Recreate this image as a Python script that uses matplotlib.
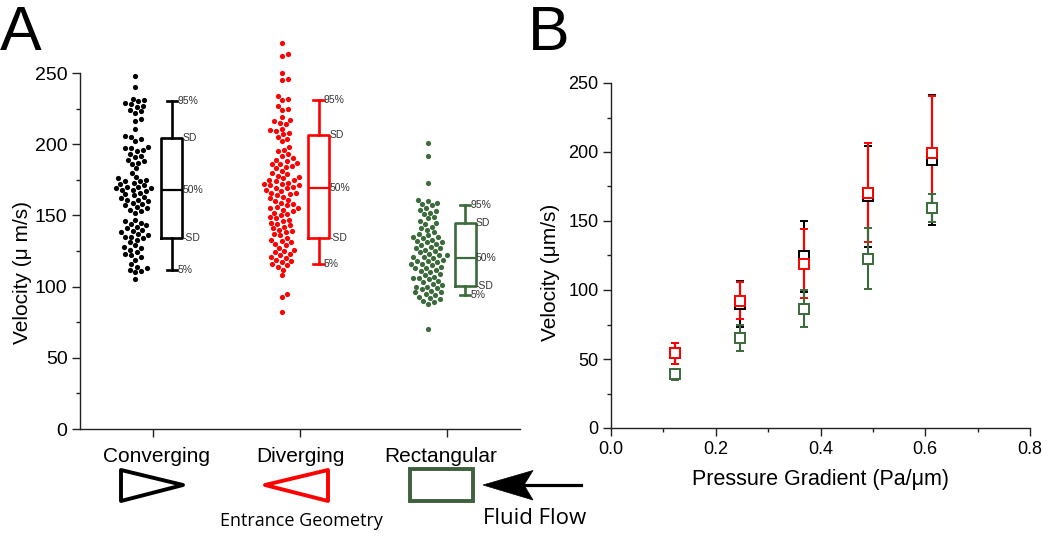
import matplotlib
matplotlib.use('Agg')
import matplotlib.pyplot as plt
import numpy as np
from matplotlib.patches import Polygon, Rectangle
from matplotlib.lines import Line2D
from matplotlib.ticker import MultipleLocator

plt.rcParams['font.family'] = ['Liberation Sans', 'DejaVu Sans']

# ---- panel A data: individual velocities (um/s) ----
converging = [248, 240, 232, 231, 230, 229, 228, 227, 226, 224, 223, 222, 218, 216, 211,
              206, 205, 204, 202, 198, 197, 197, 196, 195, 193, 192, 191, 189, 188, 187,
              186, 183, 180, 177, 176, 175, 174, 174, 173, 172, 171, 170, 170, 169, 169,
              168, 168, 167, 166, 165, 164, 163, 162, 161, 161, 160, 159, 158, 157, 156,
              155, 154, 153, 152, 147, 146, 145, 144, 143, 142, 141, 140, 139, 138, 137,
              136, 135, 135, 134, 133, 131, 129, 128, 127, 126, 124, 123, 122, 121, 119,
              116, 114, 113, 112, 111, 110, 105]
diverging = [271, 263, 262, 250, 246, 245, 234, 232, 231, 227, 225, 224, 219, 217, 216,
             215, 214, 211, 210, 209, 208, 207, 205, 204, 202, 198, 196, 195, 193, 192,
             190, 189, 188, 187, 186, 186, 185, 184, 183, 181, 180, 179, 178, 177, 176,
             175, 175, 174, 173, 172, 172, 171, 171, 170, 169, 169, 168, 167, 166, 166,
             165, 164, 163, 162, 161, 160, 159, 158, 157, 156, 155, 155, 154, 153, 152,
             151, 150, 149, 148, 147, 146, 145, 144, 143, 142, 141, 140, 139, 138, 137,
             136, 134, 133, 132, 131, 130, 129, 127, 126, 125, 124, 123, 122, 121, 120,
             119, 118, 117, 116, 115, 114, 112, 108, 95, 93, 82]
rectangular = [201, 192, 173, 161, 160, 159, 158, 157, 155, 154, 153, 152, 151, 149, 148,
               146, 145, 144, 142, 141, 140, 138, 137, 136, 135, 135, 134, 133, 132, 131,
               131, 130, 129, 128, 127, 127, 126, 125, 124, 123, 122, 122, 121, 121, 120,
               119, 118, 118, 117, 116, 116, 115, 114, 113, 113, 112, 111, 110, 109, 108,
               107, 106, 106, 105, 104, 103, 102, 101, 100, 100, 99, 98, 97, 96, 96, 95,
               94, 93, 92, 91, 90, 89, 88, 70]

names = ['Converging', 'Diverging', 'Rectangular']
p5 = [112, 116, 94]
sd_lo = [134, 134, 100.5]
med = [168, 169.5, 120]
sd_hi = [204.5, 206.5, 144.5]
p95 = [230.5, 231, 157.5]

# ---- panel B data ----
grad = [0.1227, 0.2454, 0.3681, 0.4907, 0.6134]
v_conv = [54, 90, 124.4, 168, 194.2]
e_conv = [7.6, 16.8, 25.6, 36.6, 47]
v_div = [54, 92.3, 119.1, 170.5, 199.5]
e_div = [7.5, 13.3, 25, 36, 41]
v_rect = [38.9, 65.2, 86.5, 122.6, 159.6]
e_rect = [4, 9.6, 13.6, 22, 10]

black = '#000000'
red = '#ff0000'
green = '#3b6a3b'
colors = [black, red, green]

W, H = 1050, 536
fig = plt.figure(figsize=(10.5, 5.36), dpi=100)


def fx(x):
    return x / W


def fy(y):
    return 1 - y / H


def swarm(ax, values, xc, d=5.8):
    # beeswarm layout in pixel space, returns x data positions
    pts = ax.transData.transform(np.column_stack([np.full(len(values), xc), values]))
    ypix = pts[:, 1]
    x0 = pts[0, 0]
    cands = [0.0]
    for k in np.arange(0.5, 60, 0.5):
        cands += [k, -k]
    offs = np.zeros(len(values))
    placed = []
    for i in np.argsort(ypix):
        y = ypix[i]
        near = [(px, py) for px, py in placed if abs(py - y) < d]
        for c in cands:
            if all((c - px) ** 2 + (y - py) ** 2 >= d * d for px, py in near):
                break
        offs[i] = c
        placed.append((c, y))
    back = ax.transData.inverted().transform(np.column_stack([x0 + offs, ypix]))
    return back[:, 0]


# ================= panel A =================
axA = fig.add_axes([fx(80), fy(429), 440 / W, (429 - 73) / H])
axA.set_xlim(0.5, 3.5)
axA.set_ylim(0, 250)
for s in ['top', 'right']:
    axA.spines[s].set_visible(False)
for s in ['left', 'bottom']:
    axA.spines[s].set_linewidth(1.0)
    axA.spines[s].set_color('#222222')
axA.set_xticks([1, 2, 3])
axA.set_xticklabels([])
axA.yaxis.set_major_locator(MultipleLocator(50))
axA.yaxis.set_minor_locator(MultipleLocator(25))
axA.tick_params(direction='out', length=5.5, width=1, labelsize=14, color='#222222')
axA.tick_params(which='minor', direction='out', length=3, width=1, color='#222222')
axA.set_ylabel('Velocity (\u03bc m/s)', fontsize=15)
axA.yaxis.set_label_coords(-0.108, 0.44)

groups = [converging, diverging, rectangular]
for i, (vals, c) in enumerate(zip(groups, colors)):
    xs = swarm(axA, vals, i + 1 - 0.125)
    axA.scatter(xs, vals, s=14, color=c, linewidths=0, clip_on=False, zorder=3)
    pos = i + 1 + 0.127
    st = dict(med=med[i], q1=sd_lo[i], q3=sd_hi[i], whislo=p5[i], whishi=p95[i], fliers=[])
    lp = dict(color=c, linewidth=1.9)
    axA.bxp([st], positions=[pos], widths=0.143, capwidths=0.07, showfliers=False,
            manage_ticks=False, boxprops=lp, whiskerprops=lp, capprops=lp,
            medianprops=dict(color=c, linewidth=1.6))
    kw = dict(fontsize=7.5, va='center', ha='left', color='#333333')
    axA.text(pos + 0.036, p95[i], '95%', **kw)
    axA.text(pos + 0.072, sd_hi[i], 'SD', **kw)
    axA.text(pos + 0.072, med[i], '50%', **kw)
    axA.text(pos + 0.072, sd_lo[i], '-SD', **kw)
    axA.text(pos + 0.036, p5[i], '5%', **kw)

# category labels and entrance shapes
for name, xc in zip(names, [157, 300, 441]):
    fig.text(fx(xc), fy(456), name, ha='center', va='center', fontsize=15)

fig.add_artist(Polygon([(fx(121), fy(470)), (fx(183), fy(485)), (fx(121), fy(501))],
                       closed=True, fill=False, edgecolor=black, linewidth=2.8,
                       joinstyle='round', transform=fig.transFigure))
fig.add_artist(Polygon([(fx(265), fy(485)), (fx(328), fy(470)), (fx(328), fy(501))],
                       closed=True, fill=False, edgecolor=red, linewidth=2.8,
                       joinstyle='round', transform=fig.transFigure))
fig.add_artist(Rectangle((fx(410), fy(501)), 63 / W, 32 / H, fill=False,
                         edgecolor='#3e603e', linewidth=2.8, transform=fig.transFigure))
fig.add_artist(Line2D([fx(524), fx(581)], [fy(485), fy(485)], color=black,
                      linewidth=2.3, transform=fig.transFigure))
fig.add_artist(Polygon([(fx(483), fy(485)), (fx(533), fy(470.5)), (fx(524), fy(485)),
                        (fx(533), fy(500))], closed=True, facecolor=black,
                       edgecolor=black, linewidth=0.5, transform=fig.transFigure))
fig.text(fx(301), fy(521), 'Entrance Geometry', ha='center', va='center',
         fontsize=13, family=['Open Sans', 'DejaVu Sans'])
fig.text(fx(535), fy(518), 'Fluid Flow', ha='center', va='center',
         fontsize=16, family=['Open Sans', 'DejaVu Sans'])

# ================= panel B =================
axB = fig.add_axes([fx(611), fy(428), 419 / W, (428 - 83) / H])
axB.set_xlim(0, 0.8)
axB.set_ylim(0, 250)
for s in ['top', 'right']:
    axB.spines[s].set_visible(False)
for s in ['left', 'bottom']:
    axB.spines[s].set_linewidth(1.0)
    axB.spines[s].set_color('#222222')
axB.xaxis.set_major_locator(MultipleLocator(0.2))
axB.xaxis.set_minor_locator(MultipleLocator(0.1))
axB.yaxis.set_major_locator(MultipleLocator(50))
axB.yaxis.set_minor_locator(MultipleLocator(25))
axB.tick_params(direction='out', length=5.5, width=1, labelsize=13, color='#222222')
axB.tick_params(which='minor', direction='out', length=3, width=1, color='#222222')
axB.set_xlabel('Pressure Gradient (Pa/\u03bcm)', fontsize=15.5, labelpad=8)
axB.set_ylabel('Velocity (\u03bcm/s)', fontsize=15)
axB.yaxis.set_label_coords(-0.122, 0.45)

for v, e, c in [(v_conv, e_conv, black), (v_div, e_div, red), (v_rect, e_rect, green)]:
    axB.errorbar(grad, v, yerr=e, fmt='s', color=c, ecolor=c, elinewidth=1.5,
                 capsize=3, capthick=1.5, markersize=7, markerfacecolor='white',
                 markeredgecolor=c, markeredgewidth=1.4, clip_on=False)

fig.text(fx(0), fy(50), 'A', fontsize=45, ha='left', va='baseline')
fig.text(fx(528), fy(50), 'B', fontsize=45, ha='left', va='baseline')

fig.savefig('out.png', dpi=100)
